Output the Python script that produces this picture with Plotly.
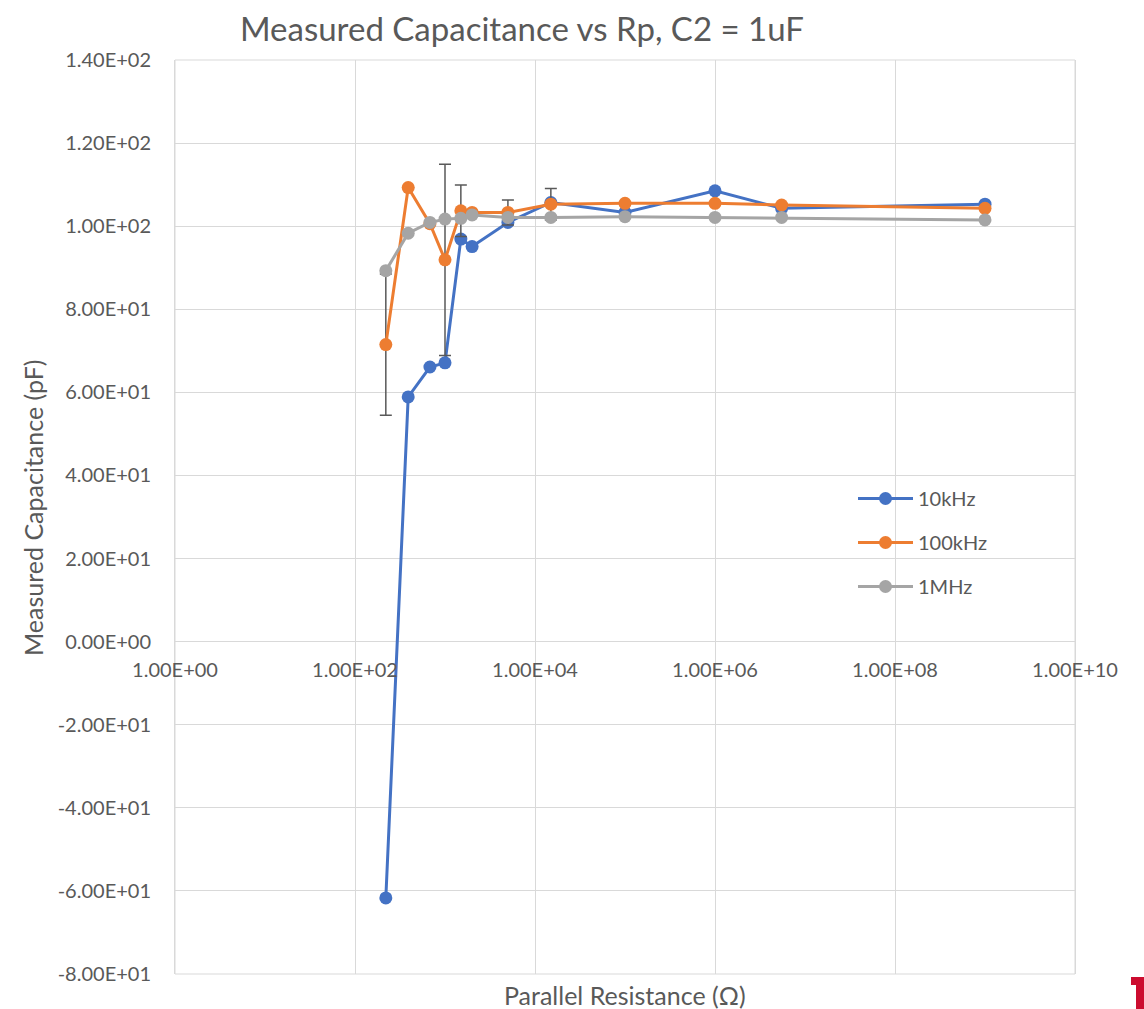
import plotly.graph_objects as go

# Parallel resistance values (ohms)
rp_ohm = [220, 390, 680, 1000, 1500, 2000, 5000, 15000, 1e5, 1e6, 5.5e6, 1e9]

# Measured capacitance (pF) at each test frequency
cap_10khz = [-61.7, 58.9, 66.1, 67.1, 96.9, 95.1, 100.9, 105.7, 103.3, 108.5, 104.3, 105.3]
cap_100khz = [71.5, 109.3, 100.6, 91.9, 103.7, 103.3, 103.3, 105.3, 105.5, 105.5, 105.1, 104.3]
cap_1mhz = [89.3, 98.3, 100.9, 101.7, 101.9, 102.7, 102.1, 102.1, 102.3, 102.1, 102.1, 101.5]

# Spread of the 100kHz readings (pF)
err_100khz = [17.0, None, None, 23.0, 6.2, None, 3.0, 3.8, None, None, None, None]

series_names = ["10kHz", "100kHz", "1MHz"]
series_colors = ["#4472C4", "#ED7D31", "#A5A5A5"]

x_tickvals = [1, 1e2, 1e4, 1e6, 1e8, 1e10]
x_ticktext = ["1.00E+00", "1.00E+02", "1.00E+04", "1.00E+06", "1.00E+08", "1.00E+10"]
y_tickvals = [140, 120, 100, 80, 60, 40, 20, 0, -20, -40, -60, -80]
y_ticktext = ["1.40E+02", "1.20E+02", "1.00E+02", "8.00E+01", "6.00E+01", "4.00E+01",
              "2.00E+01", "0.00E+00", "-2.00E+01", "-4.00E+01", "-6.00E+01", "-8.00E+01"]

TEXT = "#595959"
GRID = "#D9D9D9"
FONT = "Lato"

W, H = 1144, 1009
L, R, T, B = 175, 69, 60, 35

fig = go.Figure()

for name, ys, color, err in zip(series_names,
                                [cap_10khz, cap_100khz, cap_1mhz],
                                series_colors,
                                [None, err_100khz, None]):
    kw = {}
    if err is not None:
        kw["error_y"] = dict(type="data", array=err, symmetric=True,
                             color="#595959", thickness=1.5, width=6)
    fig.add_trace(go.Scatter(
        x=rp_ohm, y=ys, name=name, mode="lines+markers",
        line=dict(color=color, width=3),
        marker=dict(color=color, size=13),
        legendgroup=name,
        **kw,
    ))

def px_x(px):
    return (px - L) / (W - L - R)

def px_y(py):
    return (H - B - py) / (H - T - B)

# small red logo fragment in the bottom-right corner
logo = (f"M {px_x(1131)},{px_y(977)} L {px_x(1150)},{px_y(977)} L {px_x(1150)},{px_y(1015)} "
        f"L {px_x(1136)},{px_y(1015)} L {px_x(1136)},{px_y(985)} L {px_x(1131)},{px_y(985)} Z")

fig.update_layout(
    width=W, height=H,
    margin=dict(l=L, r=R, t=T, b=B),
    paper_bgcolor="white", plot_bgcolor="white",
    font=dict(family=FONT, color=TEXT, size=20),
    title=dict(text="Measured Capacitance vs Rp, C2 = 1uF",
               font=dict(size=33, color=TEXT, family=FONT),
               x=522 / W, xanchor="center", y=1 - 29 / H, yanchor="middle"),
    xaxis=dict(type="log", range=[0, 10], tickvals=x_tickvals, ticktext=x_ticktext,
               showgrid=True, gridcolor=GRID, gridwidth=1, showline=False, zeroline=False,
               anchor="free", position=80 / 220, ticks="", ticklabelstandoff=14,
               tickfont=dict(size=20, color=TEXT)),
    yaxis=dict(range=[-80, 140], tickvals=y_tickvals, ticktext=y_ticktext,
               showgrid=True, gridcolor=GRID, gridwidth=1,
               zeroline=True, zerolinecolor=GRID, zerolinewidth=1,
               showline=True, linecolor=GRID, linewidth=1, mirror=True,
               ticks="", ticklabelstandoff=19, tickfont=dict(size=20, color=TEXT)),
    legend=dict(x=px_x(853), y=px_y(479), xanchor="left", yanchor="top",
                bgcolor="rgba(0,0,0,0)", font=dict(size=20, color=TEXT),
                traceorder="grouped", tracegroupgap=15, itemwidth=55),
    shapes=[
        dict(type="rect", xref="paper", yref="paper", x0=0, x1=1, y0=0, y1=1,
             line=dict(color=GRID, width=1), layer="below"),
        dict(type="path", xref="paper", yref="paper", path=logo,
             fillcolor="#CC0C2F", line=dict(width=0)),
    ],
    annotations=[
        dict(text="Measured Capacitance (pF)", xref="paper", yref="paper",
             x=px_x(33), y=px_y(508), textangle=-90, showarrow=False,
             xanchor="center", yanchor="middle", font=dict(size=25, color=TEXT)),
        dict(text="Parallel Resistance (Ω)", xref="paper", yref="paper",
             x=px_x(625), y=px_y(995), showarrow=False,
             xanchor="center", yanchor="middle", font=dict(size=25, color=TEXT)),
    ],
)

fig.write_html("out.html")
